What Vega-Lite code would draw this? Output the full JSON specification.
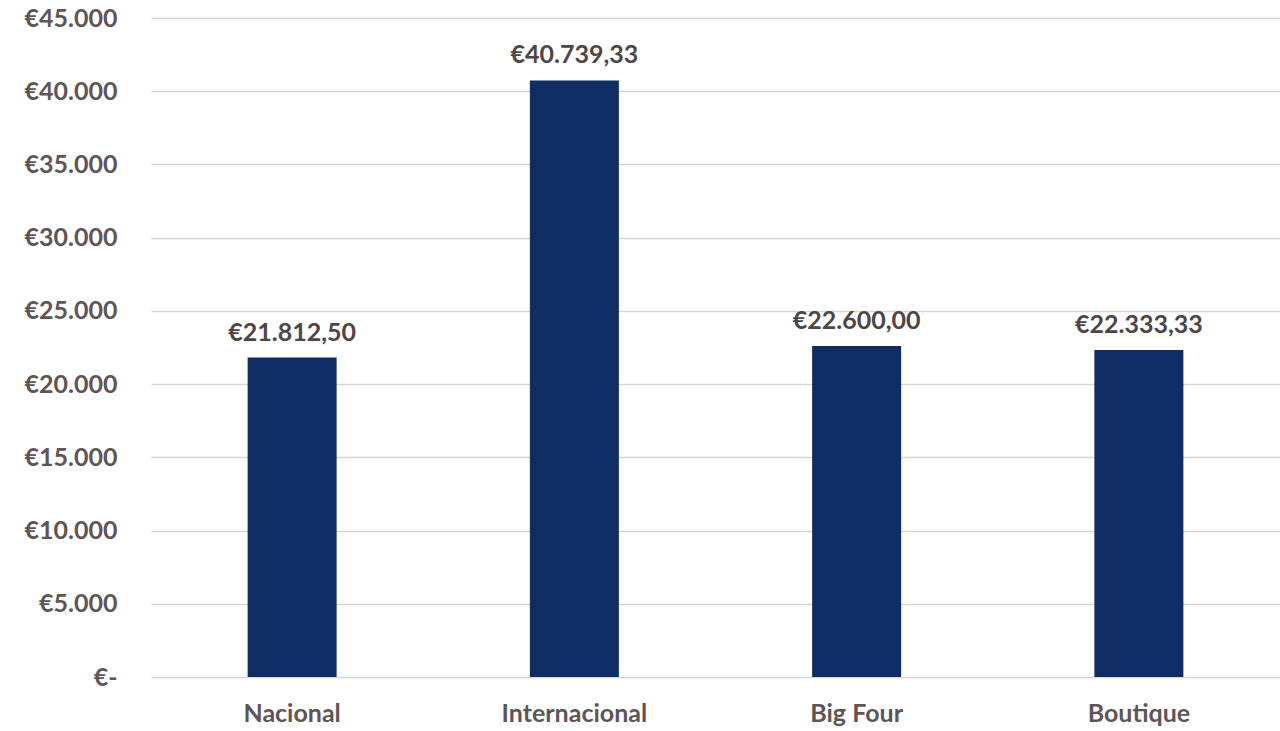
{
  "$schema": "https://vega.github.io/schema/vega-lite/v6.json",
  "width": 1129,
  "height": 659,
  "autosize": {"type": "none"},
  "padding": {"left": 151, "top": 18, "right": 0, "bottom": 54},
  "background": "white",
  "config": {
    "locale": {"number": {"decimal": ",", "thousands": ".", "grouping": [3], "currency": ["€", ""]}},
    "view": {"stroke": null},
    "font": "Lato"
  },
  "data": {"values": [
    {"categoria": "Nacional", "valor": 21812.5},
    {"categoria": "Internacional", "valor": 40739.33},
    {"categoria": "Big Four", "valor": 22600.0},
    {"categoria": "Boutique", "valor": 22333.33}
  ]},
  "encoding": {
    "x": {"field": "categoria", "type": "nominal", "sort": null,
      "scale": {"paddingInner": 0, "paddingOuter": 0},
      "axis": {"title": null, "domain": false, "ticks": false, "labelAngle": 0,
        "labelFont": "Lato", "labelFontSize": 25, "labelFontWeight": "bold", "labelColor": "#5f5556", "labelPadding": 24}},
    "y": {"field": "valor", "type": "quantitative",
      "scale": {"domain": [0, 45000], "nice": false},
      "axis": {"title": null, "domain": false, "ticks": false, "labelOverlap": false, "labelBound": false,
        "values": [0,5000,10000,15000,20000,25000,30000,35000,40000,45000],
        "labelExpr": "datum.value == 0 ? '€-' : '€' + format(datum.value, ',.0f')",
        "labelFont": "Lato", "labelFontSize": 25, "labelFontWeight": "bold", "labelColor": "#5f5556", "labelPadding": 34,
        "gridColor": "#d9d5d5", "gridWidth": 1.5}}
  },
  "layer": [
    {"mark": {"type": "bar", "size": 89, "color": "#0f2d63"}},
    {"mark": {"type": "text", "baseline": "alphabetic", "dy": -17, "font": "Lato", "fontSize": 25, "fontWeight": "bold", "color": "#4f4546"},
      "encoding": {"text": {"field": "valor", "type": "quantitative", "format": "$,.2f"}}}
  ]
}
